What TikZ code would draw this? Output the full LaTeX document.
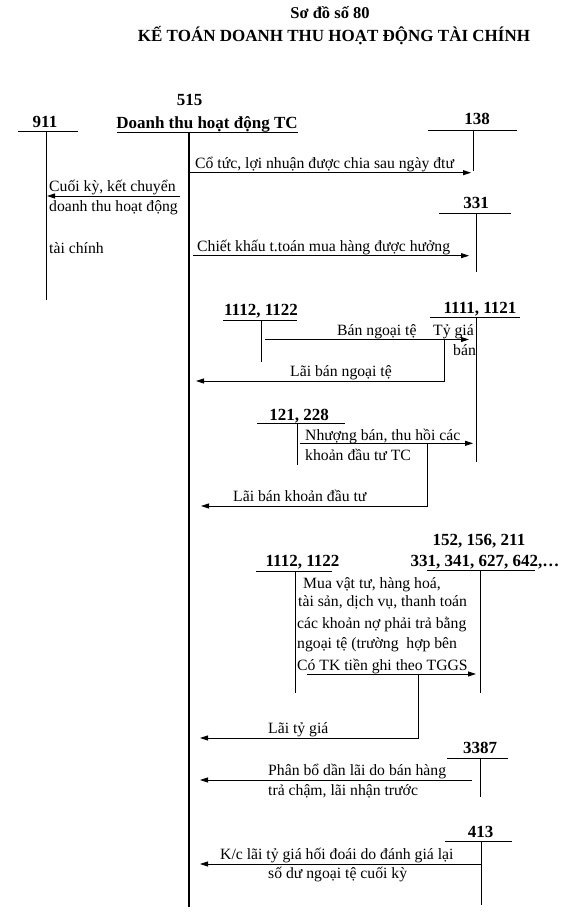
\documentclass[tikz,border=0pt]{standalone}
\usepackage{fontspec}
\setmainfont{Liberation Serif}
\usetikzlibrary{arrows.meta}
\begin{document}
\begin{tikzpicture}[x=1pt,y=-1pt,
  ln/.style={line width=0.8pt},
  arr/.style={line width=0.8pt,-{Triangle[length=8pt,width=5pt]}},
  acc/.style={font=\bfseries\fontsize{17}{19}\selectfont, inner sep=0pt, anchor=base},
  txt/.style={font=\fontsize{15.7}{18}\selectfont, inner sep=0pt, anchor=base west}]
\useasboundingbox (0,0) rectangle (583,917);
% title
\node[font=\bfseries\fontsize{16.5}{19}\selectfont, inner sep=0pt, anchor=base] (t1) at (330,19) {Sơ đồ số 80};
\node[font=\bfseries\fontsize{17}{20}\selectfont, inner sep=0pt, anchor=base] (t2) at (334,41.5) {KẾ TOÁN DOANH THU HOẠT ĐỘNG TÀI CHÍNH};

% 911
\node[acc] (n911) at (45,128) {911};
\coordinate (a911l) at (18,131); \coordinate (a911r) at (78,131);
\coordinate (a911t) at (46,131); \coordinate (a911b) at (46,300);
\draw[ln] (a911l) -- (a911r); \draw[ln] (a911t) -- (a911b);

% 515
\node[acc] (n515) at (189.5,106) {515};
\node[acc] (n515t) at (207,129) {Doanh thu hoạt động TC};
\coordinate (a515l) at (117,132.5); \coordinate (a515r) at (298,132.5);
\coordinate (a515t) at (189,132) ; \coordinate (a515b) at (189,907);
\draw[line width=1.4pt] (a515l) -- (a515r);
\draw[line width=2.6pt] (a515t) -- (a515b);

% 138
\node[acc] (n138) at (477,125) {138};
\coordinate (a138l) at (428,130.5); \coordinate (a138r) at (517,130.5);
\coordinate (a138t) at (473,130.5); \coordinate (a138b) at (473,171);
\draw[ln] (a138l) -- (a138r); \draw[ln] (a138t) -- (a138b);
\coordinate (c1s) at (190,172.7); \coordinate (c1e) at (471,172.7);
\draw[arr] (c1s) -- (c1e);
\node[txt] (l1) at (195,169) {Cổ tức, lợi nhuận được chia sau ngày đtư};

% Cuoi ky
\coordinate (c2s) at (180,196); \coordinate (c2e) at (47,196);
\draw[arr] (c2s) -- (c2e);
\node[txt] (l2a) at (49,191.7) {Cuối kỳ, kết chuyển};
\node[txt] (l2b) at (49,212) {doanh thu hoạt động};
\node[txt] (l2c) at (49,253) {tài chính};

% 331
\node[acc] (n331) at (476,208) {331};
\coordinate (a331l) at (439,213); \coordinate (a331r) at (511,213);
\coordinate (a331t) at (476,213); \coordinate (a331b) at (476,272);
\draw[ln] (a331l) -- (a331r); \draw[ln] (a331t) -- (a331b);
\coordinate (c3s) at (193,255.7); \coordinate (c3e) at (469,255.7);
\draw[arr] (c3s) -- (c3e);
\node[txt] (l3) at (197,251.7) {Chiết khấu t.toán mua hàng được hưởng};

% 1112,1122 (first)
\node[acc] (n1112a) at (261,315) {1112, 1122};
\coordinate (a1112al) at (223,320); \coordinate (a1112ar) at (297,320);
\coordinate (a1112at) at (261,320); \coordinate (a1112ab) at (261,362);
\draw[ln] (a1112al) -- (a1112ar); \draw[ln] (a1112at) -- (a1112ab);
% 1111,1121
\node[acc] (n1111) at (480,313) {1111, 1121};
\coordinate (a1111l) at (430,317.7); \coordinate (a1111r) at (520,317.7);
\coordinate (a1111t) at (476,317.7); \coordinate (a1111b) at (476,462);
\draw[ln] (a1111l) -- (a1111r); \draw[ln] (a1111t) -- (a1111b);
\coordinate (c4s) at (265,339.5); \coordinate (c4e) at (469,339.5);
\draw[arr] (c4s) -- (c4e);
\node[txt] (l4) at (337,335) {Bán ngoại tệ};
\node[txt] (l4b) at (433,335) {Tỷ giá};
\node[txt] (l4c) at (453,355) {bán};
\coordinate (c5a) at (444,339.5); \coordinate (c5b) at (444,381); \coordinate (c5e) at (196,381);
\draw[arr] (c5a) -- (c5b) -- (c5e);
\node[txt] (l5) at (290,376) {Lãi bán ngoại tệ};

% 121,228
\node[acc] (n121) at (299,420) {121, 228};
\coordinate (a121l) at (257,423.3); \coordinate (a121r) at (345,423.3);
\coordinate (a121t) at (297.7,423.3); \coordinate (a121b) at (297.7,465);
\draw[ln] (a121l) -- (a121r); \draw[ln] (a121t) -- (a121b);
\coordinate (c6s) at (300,443.3); \coordinate (c6e) at (473,443.3);
\draw[arr] (c6s) -- (c6e);
\node[txt] (l6a) at (305,440) {Nhượng bán, thu hồi các};
\node[txt] (l6b) at (305,460) {khoản đầu tư TC};
\coordinate (c7a) at (427,443.3); \coordinate (c7b) at (427,506); \coordinate (c7e) at (201,506);
\draw[arr] (c7a) -- (c7b) -- (c7e);
\node[txt] (l7) at (233,501.7) {Lãi bán khoản đầu tư};

% 1112,1122 (second) and 152...
\node[acc] (n152) at (479,545) {152, 156, 211};
\node[acc] (n331b) at (485,566.7) {331, 341, 627, 642,…};
\node[acc] (n1112b) at (302.5,566.7) {1112, 1122};
\coordinate (a1112bl) at (256,571.7); \coordinate (a1112br) at (332,571.7);
\coordinate (a1112bt) at (295,571.7); \coordinate (a1112bb) at (295,693);
\draw[ln] (a1112bl) -- (a1112br); \draw[ln] (a1112bt) -- (a1112bb);
\coordinate (a152l) at (427,570.7); \coordinate (a152r) at (535,570.7);
\coordinate (a152t) at (480,570.7); \coordinate (a152b) at (480,693);
\draw[ln] (a152l) -- (a152r); \draw[ln] (a152t) -- (a152b);
\node[txt] (l8a) at (303,588) {Mua vật tư, hàng hoá,};
\node[txt] (l8b) at (298,606.7) {tài sản, dịch vụ, thanh toán};
\node[txt] (l8c) at (297,628) {các khoản nợ phải trả bằng};
\node[txt] (l8d) at (297,648) {ngoại tệ (trường\ \ hợp bên};
\node[txt] (l8e) at (297,670) {Có TK tiền ghi theo TGGS};
\coordinate (c8s) at (307,674); \coordinate (c8e) at (476,674);
\draw[arr] (c8s) -- (c8e);
\coordinate (c9a) at (418,674); \coordinate (c9b) at (418,738); \coordinate (c9e) at (200,738);
\draw[arr] (c9a) -- (c9b) -- (c9e);
\node[txt] (l9) at (268,733) {Lãi tỷ giá};

% 3387
\node[acc] (n3387) at (480,753) {3387};
\coordinate (a3387l) at (447,758); \coordinate (a3387r) at (508,758);
\coordinate (a3387t) at (480,758); \coordinate (a3387b) at (480,797);
\draw[ln] (a3387l) -- (a3387r); \draw[ln] (a3387t) -- (a3387b);
\coordinate (c10s) at (472,780); \coordinate (c10e) at (200,780);
\draw[arr] (c10s) -- (c10e);
\node[txt] (l10a) at (268,775) {Phân bổ dần lãi do bán hàng};
\node[txt] (l10b) at (268,795) {trả chậm, lãi nhận trước};

% 413
\node[acc] (n413) at (480.5,837) {413};
\coordinate (a413l) at (445,841); \coordinate (a413r) at (512,841);
\coordinate (a413t) at (481,841); \coordinate (a413b) at (481,905);
\draw[ln] (a413l) -- (a413r); \draw[ln] (a413t) -- (a413b);
\coordinate (c11s) at (481,864); \coordinate (c11e) at (200,864);
\draw[arr] (c11s) -- (c11e);
\node[txt] (l11a) at (220,859) {K/c lãi tỷ giá hối đoái do đánh giá lại};
\node[txt] (l11b) at (268,878) {số dư ngoại tệ cuối kỳ};
\end{tikzpicture}
\end{document}
